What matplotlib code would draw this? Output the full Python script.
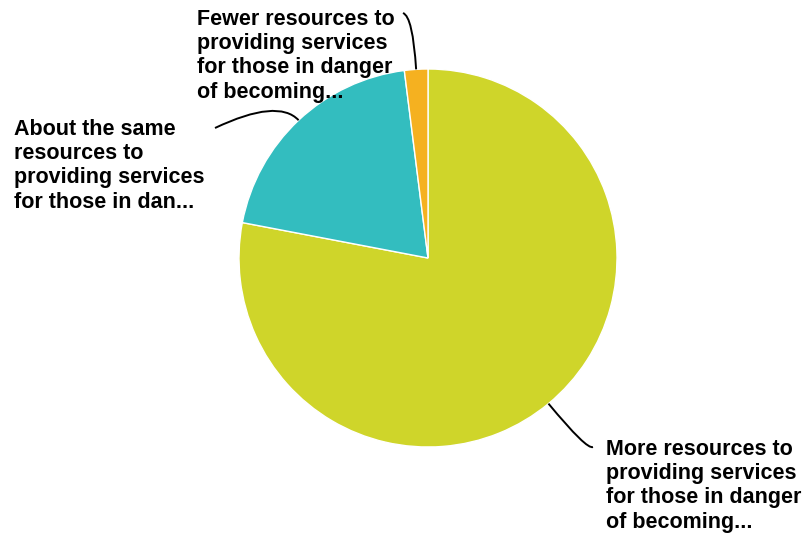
import numpy as np
import matplotlib
matplotlib.use("Agg")
import matplotlib.pyplot as plt
from matplotlib.path import Path
from matplotlib.patches import PathPatch

labels = [
    "More resources to\nproviding services\nfor those in danger\nof becoming...",
    "About the same\nresources to\nproviding services\nfor those in dan...",
    "Fewer resources to\nproviding services\nfor those in danger\nof becoming...",
]
values = [78, 20, 2]
colors = ["#cfd52a", "#33bdbf", "#f5b120"]

W, H = 806, 538
CX, CY, R = 428, 258, 189

fig = plt.figure(figsize=(W / 100, H / 100), dpi=100)
ax = fig.add_axes([0, 0, 1, 1])

def px(x, y):
    return ((x - CX) / R, (CY - y) / R)

wedges, _ = ax.pie(values, colors=colors, startangle=90, counterclock=False,
                   radius=1, center=(0, 0), frame=True,
                   wedgeprops=dict(edgecolor="white", linewidth=1))
ax.set_xlim(-CX / R, (W - CX) / R)
ax.set_ylim(-(H - CY) / R, CY / R)
ax.set_aspect("auto")
ax.axis("off")

# label placement (text top-left in pixels), control radius, line end in pixels
text_pos = [(606, 439), (14, 119), (197, 9)]
ctrl_r = [1.32, 1.16, 1.28]
line_end = [(593, 447), (215, 128), (403, 13)]

font = dict(family=["Liberation Sans", "DejaVu Sans"], fontweight="bold",
            fontsize=15.5, color="black", linespacing=1.2)

for w, lab, tp, cr, le in zip(wedges, labels, text_pos, ctrl_r, line_end):
    th = np.deg2rad((w.theta1 + w.theta2) / 2)
    p0 = (np.cos(th), np.sin(th))
    p1 = (cr * np.cos(th), cr * np.sin(th))
    p2 = px(*le)
    path = Path([p0, p1, p2], [Path.MOVETO, Path.CURVE3, Path.CURVE3])
    ax.add_patch(PathPatch(path, facecolor="none", edgecolor="black", lw=1.4))
    tx, ty = px(*tp)
    ax.text(tx, ty, lab, ha="left", va="top", **font)

fig.savefig("out.png", dpi=100)
